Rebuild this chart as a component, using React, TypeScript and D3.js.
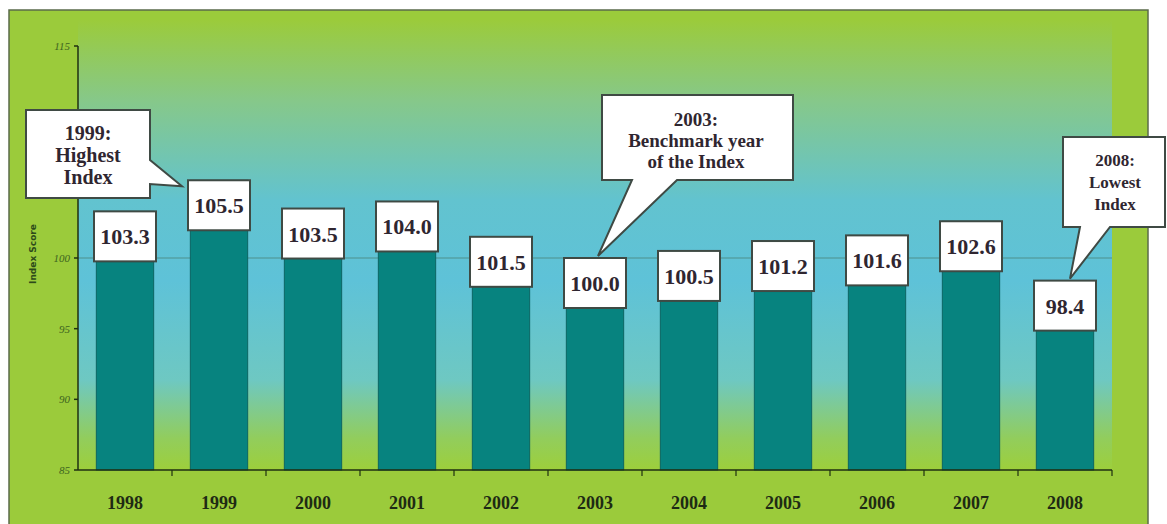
import React from "react";
import * as d3 from "d3";

const years = ["1998", "1999", "2000", "2001", "2002", "2003", "2004", "2005", "2006", "2007", "2008"];
const indexValues = [103.3, 105.5, 103.5, 104.0, 101.5, 100.0, 100.5, 101.2, 101.6, 102.6, 98.4];
const valueLabels = ["103.3", "105.5", "103.5", "104.0", "101.5", "100.0", "100.5", "101.2", "101.6", "102.6", "98.4"];
const yTicks = [85, 90, 95, 100, 115];
const yTickLabels = ["85", "90", "95", "100", "115"];
const yAxisTitle = "Index Score";
const calloutHighest = ["1999:", "Highest", "Index"];
const calloutBenchmark = ["2003:", "Benchmark year", "of the Index"];
const calloutLowest = ["2008:", "Lowest", "Index"];

const W = 1167;
const H = 524;
const left = 78;
const right = 1112;
const bottom = 470;
const top = 46;

export default function App() {
  const x = d3.scaleBand<string>().domain(years).range([left, right]).paddingInner(0.39).paddingOuter(0.195);
  const y = d3.scaleLinear().domain([85, 115]).range([bottom, top]);
  const bw = x.bandwidth();
  const step = x.step();
  const boxW = 62;
  const boxH = 50;
  const serif = "'Liberation Serif', 'Times New Roman', serif";
  const textCol = "#2f2630";
  const borderCol = "#3f4a44";

  const cx = (yr: string) => (x(yr) as number) + bw / 2;

  const c1 = { x0: 26, y0: 110, x1: 150, y1: 198 };
  const t1 = { x: cx("1999") - boxW / 2 - 6, y: y(105.5) + 6 };
  const p1 = `M${c1.x0},${c1.y0} H${c1.x1} V160 L${t1.x},${t1.y} L${c1.x1},184 V${c1.y1} H${c1.x0} Z`;

  const c2 = { x0: 602, y0: 95, x1: 793, y1: 180 };
  const t2 = { x: cx("2003") + 3, y: y(100) - 2 };
  const p2 = `M${c2.x0},${c2.y0} H${c2.x1} V${c2.y1} H677 L${t2.x},${t2.y} L632,${c2.y1} H${c2.x0} Z`;

  const c3 = { x0: 1063, y0: 137, x1: 1165, y1: 227 };
  const t3 = { x: cx("2008") + 5, y: y(98.4) - 2 };
  const p3 = `M${c3.x0},${c3.y0} H${c3.x1} V${c3.y1} H1110 L${t3.x},${t3.y} L1080,${c3.y1} H${c3.x0} Z`;

  const xTickPos = years.map((_, i) => left + step * i).concat([right]).slice(1);

  return (
    <svg width={W} height={H} style={{ position: "absolute", left: 0, top: 0, display: "block" }}>
      <defs>
        <linearGradient id="plotBg" x1="0" y1="0" x2="0" y2="1">
          <stop offset="0" stopColor="#9bcb3b" />
          <stop offset="0.18" stopColor="#86c88a" />
          <stop offset="0.4" stopColor="#62c3cf" />
          <stop offset="0.58" stopColor="#5ec2d8" />
          <stop offset="0.8" stopColor="#6ec8c2" />
          <stop offset="0.93" stopColor="#92cd5c" />
          <stop offset="1" stopColor="#9dcf3b" />
        </linearGradient>
      </defs>
      <rect x={0} y={0} width={W} height={H} fill="#ffffff" />
      <rect x={9} y={10} width={1139} height={520} fill="#9bcb3b" stroke="#5b6b4b" strokeWidth={1.5} />
      <rect x={left} y={20} width={right - left} height={bottom - 20} fill="url(#plotBg)" />

      <line x1={left} x2={right} y1={y(100)} y2={y(100)} stroke="#4f8f8c" strokeWidth={1.2} />

      {years.map((yr, i) => (
        <rect
          key={yr}
          x={x(yr)}
          y={y(indexValues[i])}
          width={bw}
          height={bottom - y(indexValues[i])}
          fill="#07837f"
          stroke="#0c6663"
          strokeWidth={1}
        />
      ))}

      <line x1={left} x2={left} y1={top} y2={bottom} stroke="#1f2f12" strokeWidth={1.5} />
      <line x1={left} x2={right} y1={bottom} y2={bottom} stroke="#1f2f12" strokeWidth={1.5} />
      {yTicks.map((t, i) => (
        <g key={t}>
          <line x1={left - 4} x2={left} y1={y(t)} y2={y(t)} stroke="#1f2f12" strokeWidth={1.5} />
          <text
            x={left - 8}
            y={y(t)}
            dy="0.35em"
            textAnchor="end"
            fontFamily={serif}
            fontStyle="italic"
            fontSize={11}
            fill="#3d6420"
          >
            {yTickLabels[i]}
          </text>
        </g>
      ))}
      {xTickPos.map((p, i) => (
        <line key={i} x1={p} x2={p} y1={bottom} y2={bottom + 6} stroke="#1f2f12" strokeWidth={1.2} />
      ))}
      {years.map((yr) => (
        <text
          key={yr}
          x={cx(yr)}
          y={509}
          textAnchor="middle"
          fontFamily={serif}
          fontWeight="bold"
          fontSize={18}
          fill="#1e2a14"
        >
          {yr}
        </text>
      ))}
      <text
        transform={`translate(36,${y(100) - 4}) rotate(-90)`}
        textAnchor="middle"
        fontFamily="'DejaVu Sans', sans-serif"
        fontWeight="bold"
        fontSize={9}
        fill="#2d4a1a"
      >
        {yAxisTitle}
      </text>

      {years.map((yr, i) => (
        <g key={yr}>
          <rect
            x={cx(yr) - boxW / 2}
            y={y(indexValues[i])}
            width={boxW}
            height={boxH}
            fill="#ffffff"
            stroke={borderCol}
            strokeWidth={2}
          />
          <text
            x={cx(yr)}
            y={y(indexValues[i]) + 33}
            textAnchor="middle"
            fontFamily={serif}
            fontWeight="bold"
            fontSize={22}
            fill={textCol}
          >
            {valueLabels[i]}
          </text>
        </g>
      ))}

      <path d={p1} fill="#ffffff" stroke={borderCol} strokeWidth={2} />
      {calloutHighest.map((s, i) => (
        <text key={s} x={88} y={140 + i * 22} textAnchor="middle" fontFamily={serif} fontWeight="bold" fontSize={20} fill={textCol}>
          {s}
        </text>
      ))}
      <path d={p2} fill="#ffffff" stroke={borderCol} strokeWidth={2} />
      {calloutBenchmark.map((s, i) => (
        <text key={s} x={696} y={126 + i * 21} textAnchor="middle" fontFamily={serif} fontWeight="bold" fontSize={19} fill={textCol}>
          {s}
        </text>
      ))}
      <path d={p3} fill="#ffffff" stroke={borderCol} strokeWidth={2} />
      {calloutLowest.map((s, i) => (
        <text key={s} x={1115} y={166 + i * 22} textAnchor="middle" fontFamily={serif} fontWeight="bold" fontSize={17} fill={textCol}>
          {s}
        </text>
      ))}
    </svg>
  );
}
